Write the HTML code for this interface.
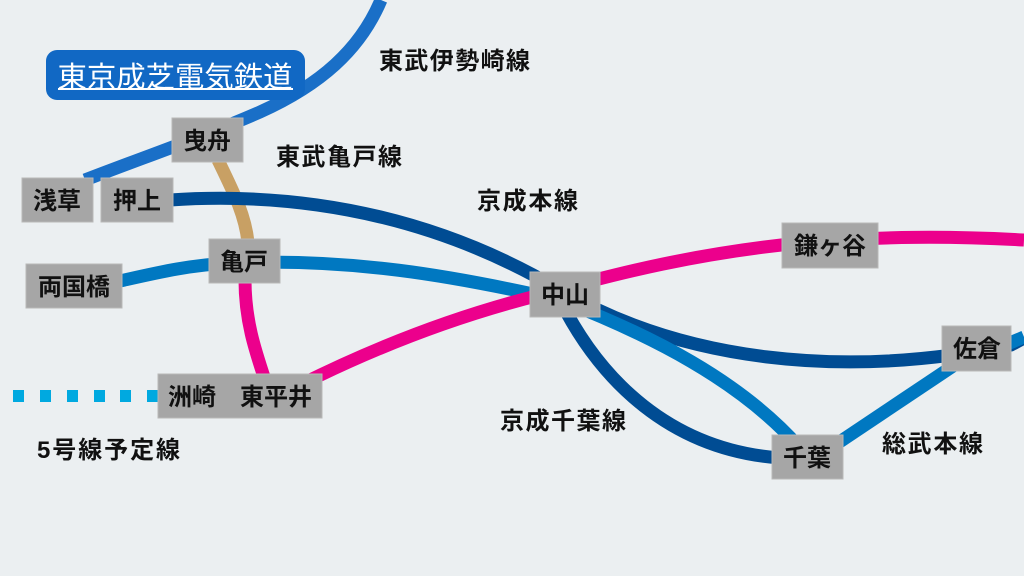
<!DOCTYPE html>
<html><head><meta charset="utf-8"><style>
html,body{margin:0;padding:0;background:#ebeff1;}
svg{display:block}
text{font-family:"Liberation Sans","Noto Sans CJK JP",sans-serif;font-weight:bold;}
</style></head><body>
<svg width="1024" height="576" viewBox="0 0 1024 576" xmlns="http://www.w3.org/2000/svg">
<rect width="1024" height="576" fill="#ebeff1"/>
<g fill="none" stroke-width="13">
<path d="M381,0 C360,50 320,85 260,112 C200,138 150,155 85,180" stroke="#1a6fc7"/>
<path d="M218,160 C235,195 245,215 248,242" stroke="#c8a064"/>
<path d="M170,200 C320,190 450,225 560,290 C680,360 840,380 1011,345 L1024,338" stroke="#004c93"/>
<path d="M560,300 C600,380 670,450 780,458" stroke="#004c93"/>
<path d="M120,281 C160,272 190,265 230,263 C350,258 450,275 560,300 C650,335 740,380 800,448" stroke="#0078c1"/>
<path d="M835,445 L965,358" stroke="#0078c1"/>
<path d="M1005,345 L1024,337" stroke="#0078c1"/>
<path d="M245,280 C245,320 255,350 265,380" stroke="#ec008c"/>
<path d="M300,385 C380,345 460,315 540,295 C620,272 700,253 800,243 C880,236 950,236 1024,240" stroke="#ec008c"/>
</g>
<g fill="#00a9e0">
<rect x="13" y="390" width="11" height="12"/><rect x="40" y="390" width="11" height="12"/><rect x="67" y="390" width="11" height="12"/><rect x="94" y="390" width="11" height="12"/><rect x="120" y="390" width="11" height="12"/><rect x="147" y="390" width="11" height="12"/>
</g>
<rect x="46" y="50" width="259" height="50" rx="11" fill="#1168c4"/>
<text x="175" y="87" font-size="29" fill="#fff" text-anchor="middle" textLength="235" lengthAdjust="spacingAndGlyphs" style="font-weight:normal">東京成芝電気鉄道</text>
<rect x="58" y="88" width="235" height="2" fill="#fff"/>
<g fill="#a6a6a6" stroke="#b8b8b8" stroke-width="1">
<rect x="172" y="118" width="71" height="44"/>
<rect x="22" y="178" width="71" height="44"/>
<rect x="101" y="178" width="72" height="44"/>
<rect x="209" y="239" width="71" height="44"/>
<rect x="26" y="264" width="96" height="44"/>
<rect x="158" y="374" width="164" height="44"/>
<rect x="530" y="272" width="70" height="45"/>
<rect x="782" y="223" width="96" height="45"/>
<rect x="942" y="326" width="69" height="45"/>
<rect x="772" y="435" width="71" height="44"/>
</g>
<g font-size="24" fill="#111" text-anchor="middle">
<text x="207" y="149">曳舟</text>
<text x="57" y="209">浅草</text>
<text x="137" y="209">押上</text>
<text x="244" y="270">亀戸</text>
<text x="74" y="295">両国橋</text>
<text x="240" y="405">洲崎　東平井</text>
<text x="565" y="303">中山</text>
<text x="830" y="254">鎌ヶ谷</text>
<text x="977" y="357">佐倉</text>
<text x="807" y="466">千葉</text>
</g>
<g font-size="24" fill="#111">
<text x="379" y="69" textLength="151">東武伊勢崎線</text>
<text x="276" y="165" textLength="126">東武亀戸線</text>
<text x="477" y="209" textLength="101">京成本線</text>
<text x="500" y="429" textLength="126">京成千葉線</text>
<text x="882" y="452" textLength="101">総武本線</text>
<text x="37" y="458" textLength="143">5号線予定線</text>
</g>
</svg>
</body></html>
